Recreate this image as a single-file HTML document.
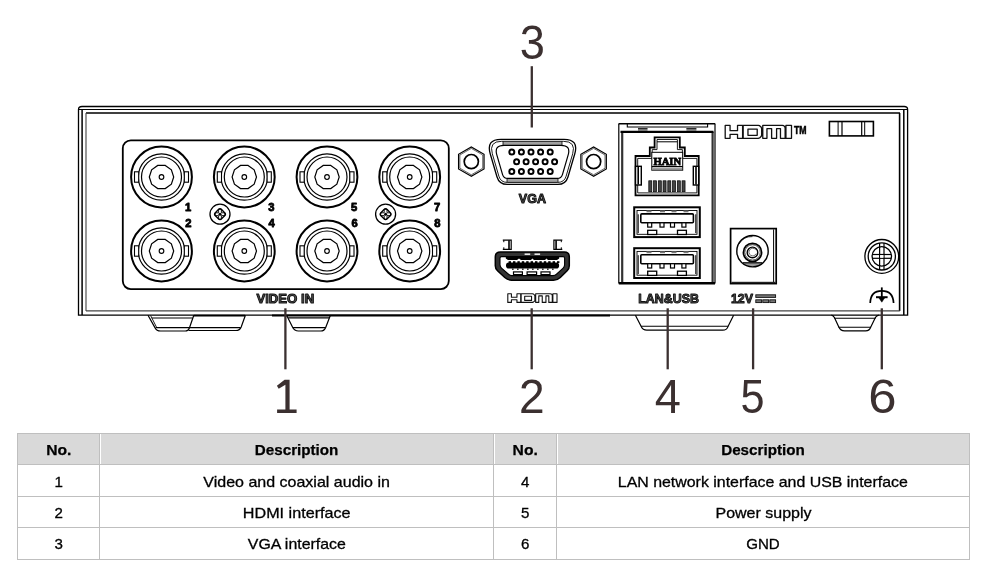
<!DOCTYPE html>
<html><head><meta charset="utf-8">
<style>
html,body{margin:0;padding:0;background:#fff;}
body{width:990px;height:579px;overflow:hidden;position:relative;font-family:"Liberation Sans",sans-serif;}
svg{position:absolute;left:0;top:0;will-change:transform;}
</style></head>
<body>
<svg width="990" height="579" viewBox="0 0 990 579">
<defs>
<g id="bnc" fill="none" stroke="#000">
<circle r="30.4" stroke-width="2.0"/>
<circle r="23.2" stroke-width="1.2"/>
<circle r="20" stroke-width="1.2"/>
<polygon points="3.77,-11.6 9.87,-7.17 12.2,0 9.87,7.17 3.77,11.6 -3.77,11.6 -9.87,7.17 -12.2,0 -9.87,-7.17 -3.77,-11.6" stroke-width="1.2"/>
<circle r="2.3" stroke-width="1.2"/>
<rect x="-27" y="-5.2" width="4.2" height="10.4" fill="#fff" stroke-width="1.1"/>
<rect x="22.8" y="-5.2" width="4.2" height="10.4" fill="#fff" stroke-width="1.1"/>
</g>
</defs>
<g fill="none">
<path d="M148,315.2 L154.8,327.4 Q156.6,331 160.6,331 L185.3,331 Q188.4,331 189.4,328 L193.8,315.2" fill="none" stroke="#000" stroke-width="1.2" />
<path d="M150.6,315.5 L156.8,327.8" fill="none" stroke="#000" stroke-width="0.9" />
<line x1="151.8" y1="318" x2="192.6" y2="318" stroke="#000" stroke-width="1.1" />
<line x1="155.6" y1="327.6" x2="240.6" y2="327.6" stroke="#000" stroke-width="1.2" />
<path d="M245.4,315.2 L241.2,327 Q239.8,330.5 236,330.5 L188.5,330.5" fill="none" stroke="#000" stroke-width="1.2" />
<path d="M286.6,315.2 L292.6,327.2 Q294.4,331 298.4,331 L320.6,331 Q324.4,331 325.8,327.2 L330.4,315.2" fill="none" stroke="#000" stroke-width="1.2" />
<line x1="288.2" y1="317.9" x2="329.2" y2="317.9" stroke="#000" stroke-width="1.1" />
<line x1="292.8" y1="327.6" x2="325.6" y2="327.6" stroke="#000" stroke-width="1.1" />
<path d="M635.4,315.2 L641.2,326.6 Q642.8,330.2 646.8,330.2 L722.8,330.2 Q726.6,330.2 728,326.6 L733.6,315.2" fill="none" stroke="#000" stroke-width="1.2" />
<line x1="641" y1="326.3" x2="728.2" y2="326.3" stroke="#000" stroke-width="1.1" />
<path d="M831.4,315.2 Q833.6,315.6 834.4,317.6 L838.8,327 Q840.4,330.8 844.6,330.8 L865.6,330.8 Q869.6,330.8 870.8,327 L875.4,317.6 Q876.4,315.6 878.8,315.2" fill="none" stroke="#000" stroke-width="1.2" />
<line x1="834.6" y1="318.2" x2="875.6" y2="318.2" stroke="#000" stroke-width="1.1" />
<line x1="838.6" y1="327.3" x2="871" y2="327.3" stroke="#000" stroke-width="1.1" />
<path d="M78.5,315.2 L78.5,109.5 Q78.5,106.5 82,106.5 L904.2,106.5 Q907.6,106.5 907.6,109.5 L907.6,315.2 Z" fill="none" stroke="#000" stroke-width="1.3" />
<line x1="78.5" y1="109.5" x2="907.6" y2="109.5" stroke="#000" stroke-width="1.2" />
<line x1="82.1" y1="109.5" x2="82.1" y2="315" stroke="#000" stroke-width="1.5" />
<line x1="903.8" y1="109.5" x2="903.8" y2="315" stroke="#000" stroke-width="1.5" />
<line x1="86" y1="113" x2="900" y2="113" stroke="#000" stroke-width="1.4" />
<line x1="86" y1="113" x2="86" y2="311" stroke="#444" stroke-width="1.1" />
<line x1="899.6" y1="113" x2="899.6" y2="311" stroke="#000" stroke-width="1.6" />
<line x1="86" y1="310.9" x2="899.8" y2="310.9" stroke="#444" stroke-width="1.1" />
<line x1="272" y1="315.6" x2="610" y2="315.6" stroke="#000" stroke-width="2" />
<line x1="193.8" y1="315.6" x2="245" y2="315.6" stroke="#000" stroke-width="1.8" />
</g>
<rect x="122.8" y="140.3" width="326" height="148.8" rx="8" fill="none" stroke="#000" stroke-width="1.8" />
<use href="#bnc" x="161.5" y="177"/>
<use href="#bnc" x="161.5" y="251"/>
<use href="#bnc" x="244.3" y="177"/>
<use href="#bnc" x="244.3" y="251"/>
<use href="#bnc" x="327" y="177"/>
<use href="#bnc" x="327" y="251"/>
<use href="#bnc" x="409.7" y="177"/>
<use href="#bnc" x="409.7" y="251"/>
<circle cx="220" cy="214.2" r="10" fill="none" stroke="#000" stroke-width="1.3"/>
<path d="M218.44,209.56 Q220,208 221.56,209.56 L224.64,212.64 Q226.2,214.2 224.64,215.76 L221.56,218.84 Q220,220.4 218.44,218.84 L215.36,215.76 Q213.8,214.2 215.36,212.64 Z" fill="none" stroke="#000" stroke-width="1.4" />
<path d="M218.6,209.2 L221.4,209.2 L221.4,212.8 L225,212.8 L225,215.6 L221.4,215.6 L221.4,219.2 L218.6,219.2 L218.6,215.6 L215,215.6 L215,212.8 L218.6,212.8 Z" fill="none" stroke="#000" stroke-width="0.9" />
<circle cx="220" cy="214.2" r="1.5" fill="#000" stroke="#000" stroke-width="0"/>
<circle cx="385.6" cy="214.2" r="10" fill="none" stroke="#000" stroke-width="1.3"/>
<path d="M384.04,209.56 Q385.6,208 387.16,209.56 L390.24,212.64 Q391.8,214.2 390.24,215.76 L387.16,218.84 Q385.6,220.4 384.04,218.84 L380.96,215.76 Q379.4,214.2 380.96,212.64 Z" fill="none" stroke="#000" stroke-width="1.4" />
<path d="M384.2,209.2 L387,209.2 L387,212.8 L390.6,212.8 L390.6,215.6 L387,215.6 L387,219.2 L384.2,219.2 L384.2,215.6 L380.6,215.6 L380.6,212.8 L384.2,212.8 Z" fill="none" stroke="#000" stroke-width="0.9" />
<circle cx="385.6" cy="214.2" r="1.5" fill="#000" stroke="#000" stroke-width="0"/>
<g font-family="Liberation Sans" font-weight="bold" font-size="11.2" fill="#000" stroke="#000" stroke-width="0.85" stroke-linejoin="round" text-anchor="middle">
<text x="188" y="210.6">1</text>
<text x="188.3" y="227.4">2</text>
<text x="271.3" y="210.6">3</text>
<text x="271.6" y="227.4">4</text>
<text x="354.2" y="210.6">5</text>
<text x="354.5" y="227.4">6</text>
<text x="437" y="210.6">7</text>
<text x="437.3" y="227.4">8</text>
</g>
<text x="256.4" y="302.7" textLength="57.8" lengthAdjust="spacingAndGlyphs" font-family="Liberation Sans" font-weight="bold" font-size="13.5" fill="#555" stroke="#111" stroke-width="1.0" stroke-linejoin="round">VIDEO IN</text>
<rect x="503" y="141.4" width="59" height="4" rx="0" fill="#a0a0a0" stroke="#000" stroke-width="0" />
<rect x="507" y="178.3" width="51" height="4.1" rx="0" fill="#a0a0a0" stroke="#000" stroke-width="0" />
<path d="M490.21,153.7 Q486,139.3 501,139.3 L564,139.3 Q579,139.3 574.79,153.7 L568.05,176.72 Q565.8,184.4 557.8,184.4 L507.2,184.4 Q499.2,184.4 496.95,176.72 Z" fill="none" stroke="#000" stroke-width="1.3" />
<path d="M492.32,153.78 Q488.67,141.3 501.67,141.3 L563.33,141.3 Q576.33,141.3 572.68,153.78 L566.13,176.16 Q564.3,182.4 557.8,182.4 L507.2,182.4 Q500.7,182.4 498.87,176.16 Z" fill="none" stroke="#000" stroke-width="0.9" />
<path d="M496.82,154.9 Q494.01,145.3 504.01,145.3 L560.99,145.3 Q570.99,145.3 568.18,154.9 L562.43,174.56 Q561.3,178.4 557.3,178.4 L507.7,178.4 Q503.7,178.4 502.57,174.56 Z" fill="none" stroke="#000" stroke-width="1.2" />
<line x1="503" y1="141.4" x2="503" y2="145.4" stroke="#000" stroke-width="0.8" />
<line x1="562" y1="141.4" x2="562" y2="145.4" stroke="#000" stroke-width="0.8" />
<line x1="507" y1="178.3" x2="507" y2="182.4" stroke="#000" stroke-width="0.8" />
<line x1="558" y1="178.3" x2="558" y2="182.4" stroke="#000" stroke-width="0.8" />
<circle cx="511.8" cy="152.1" r="2.5" fill="none" stroke="#000" stroke-width="2.0"/>
<circle cx="516.6" cy="161.7" r="2.5" fill="none" stroke="#000" stroke-width="2.0"/>
<circle cx="511.8" cy="171.4" r="2.5" fill="none" stroke="#000" stroke-width="2.0"/>
<circle cx="521.4" cy="152.1" r="2.5" fill="none" stroke="#000" stroke-width="2.0"/>
<circle cx="526.1" cy="161.7" r="2.5" fill="none" stroke="#000" stroke-width="2.0"/>
<circle cx="521.4" cy="171.4" r="2.5" fill="none" stroke="#000" stroke-width="2.0"/>
<circle cx="531" cy="152.1" r="2.5" fill="none" stroke="#000" stroke-width="2.0"/>
<circle cx="535.6" cy="161.7" r="2.5" fill="none" stroke="#000" stroke-width="2.0"/>
<circle cx="531" cy="171.4" r="2.5" fill="none" stroke="#000" stroke-width="2.0"/>
<circle cx="540.6" cy="152.1" r="2.5" fill="none" stroke="#000" stroke-width="2.0"/>
<circle cx="545.1" cy="161.7" r="2.5" fill="none" stroke="#000" stroke-width="2.0"/>
<circle cx="540.6" cy="171.4" r="2.5" fill="none" stroke="#000" stroke-width="2.0"/>
<circle cx="550.2" cy="152.1" r="2.5" fill="none" stroke="#000" stroke-width="2.0"/>
<circle cx="554.6" cy="161.7" r="2.5" fill="none" stroke="#000" stroke-width="2.0"/>
<circle cx="550.2" cy="171.4" r="2.5" fill="none" stroke="#000" stroke-width="2.0"/>
<polygon points="471.3,176.3 458.57,168.95 458.57,154.25 471.3,146.9 484.03,154.25 484.03,168.95" fill="none" stroke="#000" stroke-width="1.2"/>
<polygon points="471.3,174.8 459.87,168.2 459.87,155 471.3,148.4 482.73,155 482.73,168.2" fill="none" stroke="#000" stroke-width="0.6"/>
<circle cx="471.3" cy="161.6" r="7.1" fill="none" stroke="#000" stroke-width="1.7"/>
<polygon points="593.6,176.3 580.87,168.95 580.87,154.25 593.6,146.9 606.33,154.25 606.33,168.95" fill="none" stroke="#000" stroke-width="1.2"/>
<polygon points="593.6,174.8 582.17,168.2 582.17,155 593.6,148.4 605.03,155 605.03,168.2" fill="none" stroke="#000" stroke-width="0.6"/>
<circle cx="593.6" cy="161.6" r="7.1" fill="none" stroke="#000" stroke-width="1.7"/>
<text x="518.8" y="203" textLength="27.2" lengthAdjust="spacingAndGlyphs" font-family="Liberation Sans" font-weight="bold" font-size="13.5" fill="#555" stroke="#111" stroke-width="1.0" stroke-linejoin="round">VGA</text>
<path d="M502.8,240.2 L511.2,240.2 L511.2,249.3 L502.8,249.3" fill="none" stroke="#000" stroke-width="1.2" />
<line x1="509" y1="240.2" x2="509" y2="249.3" stroke="#000" stroke-width="1.6" />
<line x1="503.8" y1="240.2" x2="503.8" y2="242.2" stroke="#000" stroke-width="1" />
<line x1="503.8" y1="247.3" x2="503.8" y2="249.3" stroke="#000" stroke-width="1" />
<path d="M562.3,240.2 L553.9,240.2 L553.9,249.3 L562.3,249.3" fill="none" stroke="#000" stroke-width="1.2" />
<line x1="556.1" y1="240.2" x2="556.1" y2="249.3" stroke="#000" stroke-width="1.6" />
<line x1="561.3" y1="240.2" x2="561.3" y2="242.2" stroke="#000" stroke-width="1" />
<line x1="561.3" y1="247.3" x2="561.3" y2="249.3" stroke="#000" stroke-width="1" />
<path d="M495.3,257.1 Q495.3,252.1 500.3,252.1 L564.3,252.1 Q569.3,252.1 569.3,257.1 L569.3,265.7 Q569.3,268.7 567.14,270.78 L560.28,277.42 Q557.4,280.2 553.4,280.2 L511.7,280.2 Q507.7,280.2 504.77,277.48 L497.5,270.74 Q495.3,268.7 495.3,265.7 Z M500,258.1 Q500,256.6 501.5,256.6 L563.1,256.6 Q564.6,256.6 564.6,258.1 L564.6,264.8 Q564.6,266.8 563.13,268.15 L556.47,274.25 Q555,275.6 553,275.6 L512,275.6 Q510,275.6 508.5,274.28 L501.5,268.12 Q500,266.8 500,264.8 Z" fill="#333" stroke="#000" stroke-width="0" fill-rule="evenodd"/>
<path d="M495.3,257.1 Q495.3,252.1 500.3,252.1 L564.3,252.1 Q569.3,252.1 569.3,257.1 L569.3,265.7 Q569.3,268.7 567.14,270.78 L560.28,277.42 Q557.4,280.2 553.4,280.2 L511.7,280.2 Q507.7,280.2 504.77,277.48 L497.5,270.74 Q495.3,268.7 495.3,265.7 Z" fill="none" stroke="#000" stroke-width="1.5" />
<path d="M500,258.1 Q500,256.6 501.5,256.6 L563.1,256.6 Q564.6,256.6 564.6,258.1 L564.6,264.8 Q564.6,266.8 563.13,268.15 L556.47,274.25 Q555,275.6 553,275.6 L512,275.6 Q510,275.6 508.5,274.28 L501.5,268.12 Q500,266.8 500,264.8 Z" fill="none" stroke="#000" stroke-width="1.1" />
<rect x="524.6" y="253.4" width="5.6" height="1.6" rx="0" fill="#e8e8e8" stroke="#000" stroke-width="0" />
<rect x="534.5" y="253.4" width="5.6" height="1.6" rx="0" fill="#e8e8e8" stroke="#000" stroke-width="0" />
<path d="M505.8,256 L559.2,256 L559.2,258.4 L557,260 L548,260 L546.5,258.6 L545,260 L534,260 L532.4,258.6 L531,260 L521,260 L519,258.6 L517,260 L508,260 L505.8,258.6 Z" fill="#000" stroke="#000" stroke-width="0" />
<rect x="506" y="262.6" width="53.1" height="6" rx="2.8" fill="#000" stroke="#000" stroke-width="0" />
<rect x="508.6" y="261.2" width="2.4" height="1.8" rx="0" fill="#000" stroke="#000" stroke-width="0" />
<rect x="513" y="261.2" width="2.4" height="1.8" rx="0" fill="#000" stroke="#000" stroke-width="0" />
<rect x="517.4" y="261.2" width="2.4" height="1.8" rx="0" fill="#000" stroke="#000" stroke-width="0" />
<rect x="521.8" y="261.2" width="2.4" height="1.8" rx="0" fill="#000" stroke="#000" stroke-width="0" />
<rect x="526.2" y="261.2" width="2.4" height="1.8" rx="0" fill="#000" stroke="#000" stroke-width="0" />
<rect x="530.6" y="261.2" width="2.4" height="1.8" rx="0" fill="#000" stroke="#000" stroke-width="0" />
<rect x="535" y="261.2" width="2.4" height="1.8" rx="0" fill="#000" stroke="#000" stroke-width="0" />
<rect x="539.4" y="261.2" width="2.4" height="1.8" rx="0" fill="#000" stroke="#000" stroke-width="0" />
<rect x="543.8" y="261.2" width="2.4" height="1.8" rx="0" fill="#000" stroke="#000" stroke-width="0" />
<rect x="548.2" y="261.2" width="2.4" height="1.8" rx="0" fill="#000" stroke="#000" stroke-width="0" />
<rect x="552.6" y="261.2" width="2.4" height="1.8" rx="0" fill="#000" stroke="#000" stroke-width="0" />
<rect x="557" y="261.2" width="2.4" height="1.8" rx="0" fill="#000" stroke="#000" stroke-width="0" />
<rect x="512" y="268.4" width="1.6" height="1.6" rx="0" fill="#333" stroke="#000" stroke-width="0" />
<rect x="517" y="268.4" width="1.6" height="1.6" rx="0" fill="#333" stroke="#000" stroke-width="0" />
<rect x="522" y="268.4" width="1.6" height="1.6" rx="0" fill="#333" stroke="#000" stroke-width="0" />
<rect x="527" y="268.4" width="1.6" height="1.6" rx="0" fill="#333" stroke="#000" stroke-width="0" />
<rect x="532" y="268.4" width="1.6" height="1.6" rx="0" fill="#333" stroke="#000" stroke-width="0" />
<rect x="537" y="268.4" width="1.6" height="1.6" rx="0" fill="#333" stroke="#000" stroke-width="0" />
<rect x="542" y="268.4" width="1.6" height="1.6" rx="0" fill="#333" stroke="#000" stroke-width="0" />
<rect x="547" y="268.4" width="1.6" height="1.6" rx="0" fill="#333" stroke="#000" stroke-width="0" />
<rect x="552" y="268.4" width="1.6" height="1.6" rx="0" fill="#333" stroke="#000" stroke-width="0" />
<rect x="513.5" y="271.9" width="8.9" height="2.7" rx="0" fill="#fff" stroke="#000" stroke-width="1.2" />
<rect x="527.1" y="271.9" width="9.5" height="2.7" rx="0" fill="#fff" stroke="#000" stroke-width="1.2" />
<rect x="541" y="271.9" width="9" height="2.7" rx="0" fill="#fff" stroke="#000" stroke-width="1.2" />
<path d="M507.8,293.7 L511.41,293.7 L511.41,297.27 L516.95,297.27 L516.95,293.7 L520.71,293.7 L520.71,302.4 L516.95,302.4 L516.95,299.74 L511.41,299.74 L511.41,302.4 L507.8,302.4 Z M521.15,293.7 L532.29,293.7 L533.32,293.96 L534.58,295.06 L534.87,295.97 L534.87,300.13 L534.58,301.04 L533.32,302.14 L532.29,302.4 L521.15,302.4 Z M524.69,296.23 L531.55,296.23 L531.55,300.39 L524.69,300.39 Z M535.68,302.4 L535.68,293.7 L550.07,293.7 L551.25,293.96 L551.98,294.61 L552.28,295.65 L552.28,302.4 L548.81,302.4 L548.81,295.91 L545.94,295.91 L545.94,302.4 L542.25,302.4 L542.25,295.91 L538.78,295.91 L538.78,302.4 Z M552.87,293.7 L557,293.7 L557,302.4 L552.87,302.4 Z" fill="#fff" stroke="#111" stroke-width="1.1" fill-rule="evenodd" stroke-linejoin="round"/>
<line x1="618.6" y1="123.8" x2="715.2" y2="123.8" stroke="#000" stroke-width="1.4" />
<line x1="618.8" y1="123.8" x2="618.8" y2="283.6" stroke="#000" stroke-width="1.2" />
<line x1="715" y1="123.8" x2="715" y2="283.6" stroke="#000" stroke-width="1.2" />
<line x1="622.2" y1="131.8" x2="622.2" y2="283" stroke="#333" stroke-width="2.2" />
<line x1="712.6" y1="131.8" x2="712.6" y2="283" stroke="#333" stroke-width="2.2" />
<line x1="618.8" y1="283.2" x2="715" y2="283.2" stroke="#000" stroke-width="2.6" />
<line x1="620.5" y1="131.8" x2="713.5" y2="131.8" stroke="#000" stroke-width="2.2" />
<path d="M627.3,123.8 L627.3,127 L707.6,127 L707.6,123.8" fill="none" stroke="#000" stroke-width="1.1" />
<line x1="638" y1="128.6" x2="647.5" y2="128.6" stroke="#000" stroke-width="1" />
<line x1="686.4" y1="128.6" x2="696.4" y2="128.6" stroke="#000" stroke-width="1" />
<rect x="638" y="128.8" width="9.5" height="2.2" rx="0" fill="#777" stroke="#000" stroke-width="0" />
<rect x="686.4" y="128.8" width="10" height="2.2" rx="0" fill="#777" stroke="#000" stroke-width="0" />
<path d="M635.5,156 L649.8,156 L649.8,147.5 L654.6,147.5 L654.6,137.3 L679.8,137.3 L679.8,147.5 L684.8,147.5 L684.8,156 L698.7,156 L698.7,195.3 L635.5,195.3 Z" fill="none" stroke="#000" stroke-width="1.8" />
<path d="M637.7,166.3 L637.7,158.4 L652.2,158.4 L652.2,149.6 L657,149.6 L657,139.5 L677.4,139.5 L677.4,149.6 L682.4,149.6 L682.4,158.4 L696.9,158.4 L696.9,166.3" fill="none" stroke="#000" stroke-width="0.9" />
<line x1="657" y1="141.8" x2="677.4" y2="141.8" stroke="#000" stroke-width="1.0" />
<line x1="637.7" y1="185" x2="637.7" y2="192.9" stroke="#000" stroke-width="0.9" />
<line x1="696.9" y1="185" x2="696.9" y2="192.9" stroke="#000" stroke-width="0.9" />
<line x1="637.7" y1="192.9" x2="696.9" y2="192.9" stroke="#000" stroke-width="0.9" />
<rect x="635.5" y="166.3" width="5.8" height="18.7" rx="0" fill="#fff" stroke="#000" stroke-width="1.4" />
<rect x="693.3" y="166.3" width="5.4" height="18.7" rx="0" fill="#fff" stroke="#000" stroke-width="1.4" />
<line x1="638.2" y1="167" x2="638.2" y2="184.5" stroke="#000" stroke-width="1.6" />
<line x1="696" y1="167" x2="696" y2="184.5" stroke="#000" stroke-width="1.6" />
<rect x="651.8" y="152.3" width="30.9" height="17.9" rx="0" fill="#fff" stroke="#000" stroke-width="1.0" />
<text x="653.4" y="165.4" textLength="27.8" lengthAdjust="spacingAndGlyphs" font-family="Liberation Serif" font-weight="bold" font-size="11.4" fill="#000" stroke="#000" stroke-width="0.8">HAIN</text>
<line x1="651.8" y1="166.6" x2="682.7" y2="166.6" stroke="#000" stroke-width="1.3" />
<rect x="652.4" y="168.2" width="29.7" height="2" rx="0" fill="#888" stroke="#000" stroke-width="0" />
<rect x="648.8" y="180.8" width="3" height="10.9" rx="0" fill="#444" stroke="#000" stroke-width="0.7" />
<rect x="653.55" y="180.8" width="3" height="10.9" rx="0" fill="#444" stroke="#000" stroke-width="0.7" />
<rect x="658.3" y="180.8" width="3" height="10.9" rx="0" fill="#444" stroke="#000" stroke-width="0.7" />
<rect x="663.05" y="180.8" width="3" height="10.9" rx="0" fill="#444" stroke="#000" stroke-width="0.7" />
<rect x="667.8" y="180.8" width="3" height="10.9" rx="0" fill="#444" stroke="#000" stroke-width="0.7" />
<rect x="672.55" y="180.8" width="3" height="10.9" rx="0" fill="#444" stroke="#000" stroke-width="0.7" />
<rect x="677.3" y="180.8" width="3" height="10.9" rx="0" fill="#444" stroke="#000" stroke-width="0.7" />
<rect x="682.05" y="180.8" width="3" height="10.9" rx="0" fill="#444" stroke="#000" stroke-width="0.7" />
<rect x="634.2" y="207.3" width="65.6" height="29.8" rx="0" fill="none" stroke="#000" stroke-width="2.0" />
<rect x="637" y="210.5" width="60" height="23.8" rx="0" fill="none" stroke="#000" stroke-width="0.9" />
<rect x="640.8" y="213.9" width="52.6" height="8.9" rx="1" fill="#fff" stroke="#000" stroke-width="1.6" />
<rect x="647.7" y="222.8" width="4" height="4.3" rx="0" fill="#fff" stroke="#000" stroke-width="1.2" />
<rect x="660" y="222.8" width="4" height="4.3" rx="0" fill="#fff" stroke="#000" stroke-width="1.2" />
<rect x="670.5" y="222.8" width="4" height="4.3" rx="0" fill="#fff" stroke="#000" stroke-width="1.2" />
<rect x="681.9" y="222.8" width="4" height="4.3" rx="0" fill="#fff" stroke="#000" stroke-width="1.2" />
<rect x="647.7" y="230.3" width="9" height="4.2" rx="0" fill="#fff" stroke="#000" stroke-width="1.3" />
<rect x="677.5" y="230.3" width="8.9" height="4.2" rx="0" fill="#fff" stroke="#000" stroke-width="1.3" />
<rect x="646.5" y="210.5" width="5" height="1.8" rx="0" fill="#777" stroke="#000" stroke-width="0" />
<rect x="660" y="210.5" width="5" height="1.8" rx="0" fill="#777" stroke="#000" stroke-width="0" />
<rect x="671.5" y="210.5" width="5" height="1.8" rx="0" fill="#777" stroke="#000" stroke-width="0" />
<rect x="683.5" y="210.5" width="5" height="1.8" rx="0" fill="#777" stroke="#000" stroke-width="0" />
<line x1="638.2" y1="214.3" x2="638.2" y2="233.1" stroke="#000" stroke-width="1" />
<line x1="695.8" y1="214.3" x2="695.8" y2="233.1" stroke="#000" stroke-width="1" />
<rect x="634.2" y="248.2" width="65.6" height="29.8" rx="0" fill="none" stroke="#000" stroke-width="2.0" />
<rect x="637" y="251.4" width="60" height="23.8" rx="0" fill="none" stroke="#000" stroke-width="0.9" />
<rect x="640.8" y="254.8" width="52.6" height="8.9" rx="1" fill="#fff" stroke="#000" stroke-width="1.6" />
<rect x="647.7" y="263.7" width="4" height="4.3" rx="0" fill="#fff" stroke="#000" stroke-width="1.2" />
<rect x="660" y="263.7" width="4" height="4.3" rx="0" fill="#fff" stroke="#000" stroke-width="1.2" />
<rect x="670.5" y="263.7" width="4" height="4.3" rx="0" fill="#fff" stroke="#000" stroke-width="1.2" />
<rect x="681.9" y="263.7" width="4" height="4.3" rx="0" fill="#fff" stroke="#000" stroke-width="1.2" />
<rect x="647.7" y="271.2" width="9" height="4.2" rx="0" fill="#fff" stroke="#000" stroke-width="1.3" />
<rect x="677.5" y="271.2" width="8.9" height="4.2" rx="0" fill="#fff" stroke="#000" stroke-width="1.3" />
<rect x="646.5" y="251.4" width="5" height="1.8" rx="0" fill="#777" stroke="#000" stroke-width="0" />
<rect x="660" y="251.4" width="5" height="1.8" rx="0" fill="#777" stroke="#000" stroke-width="0" />
<rect x="671.5" y="251.4" width="5" height="1.8" rx="0" fill="#777" stroke="#000" stroke-width="0" />
<rect x="683.5" y="251.4" width="5" height="1.8" rx="0" fill="#777" stroke="#000" stroke-width="0" />
<line x1="638.2" y1="255.2" x2="638.2" y2="274" stroke="#000" stroke-width="1" />
<line x1="695.8" y1="255.2" x2="695.8" y2="274" stroke="#000" stroke-width="1" />
<text x="638.3" y="302.7" textLength="60.6" lengthAdjust="spacingAndGlyphs" font-family="Liberation Sans" font-weight="bold" font-size="13.5" fill="#555" stroke="#111" stroke-width="1.0" stroke-linejoin="round">LAN&amp;USB</text>
<path d="M725.2,125.3 L730.07,125.3 L730.07,130.64 L737.53,130.64 L737.53,125.3 L742.6,125.3 L742.6,138.3 L737.53,138.3 L737.53,134.32 L730.07,134.32 L730.07,138.3 L725.2,138.3 Z M743.19,125.3 L758.2,125.3 L759.59,125.69 L761.28,127.34 L761.68,128.7 L761.68,134.9 L761.28,136.26 L759.59,137.91 L758.2,138.3 L743.19,138.3 Z M747.96,129.08 L757.21,129.08 L757.21,135.29 L747.96,135.29 Z M762.77,138.3 L762.77,125.3 L782.16,125.3 L783.75,125.69 L784.74,126.66 L785.14,128.21 L785.14,138.3 L780.47,138.3 L780.47,128.6 L776.59,128.6 L776.59,138.3 L771.62,138.3 L771.62,128.6 L766.95,128.6 L766.95,138.3 Z M785.93,125.3 L791.5,125.3 L791.5,138.3 L785.93,138.3 Z" fill="#fff" stroke="#111" stroke-width="1.3" fill-rule="evenodd" stroke-linejoin="round"/>
<text x="794" y="133.6" textLength="12.6" lengthAdjust="spacingAndGlyphs" font-family="Liberation Sans" font-weight="bold" font-size="10.6" fill="#000" stroke="#000" stroke-width="0.5">TM</text>
<rect x="829.4" y="121.5" width="44" height="14.4" rx="0" fill="none" stroke="#000" stroke-width="1.6" />
<line x1="838.1" y1="121.5" x2="838.1" y2="135.9" stroke="#000" stroke-width="1.0" />
<line x1="842" y1="121.5" x2="842" y2="135.9" stroke="#000" stroke-width="1.2" />
<line x1="861.7" y1="121.5" x2="861.7" y2="135.9" stroke="#000" stroke-width="1.2" />
<line x1="864.7" y1="121.5" x2="864.7" y2="135.9" stroke="#000" stroke-width="1.0" />
<rect x="730.6" y="228.6" width="45.6" height="55" rx="0" fill="none" stroke="#000" stroke-width="1.7" />
<line x1="773.6" y1="229.4" x2="773.6" y2="282.4" stroke="#000" stroke-width="1.0" />
<rect x="731.4" y="281.8" width="44" height="1.4" rx="0" fill="#222" stroke="#000" stroke-width="0" />
<path d="M742.2,262.8 L762.8,262.8 A15.7,15.7 0 0 1 742.2,262.8 Z" fill="#9a9a9a" stroke="#000" stroke-width="0" />
<line x1="743" y1="262.8" x2="762" y2="262.8" stroke="#000" stroke-width="1.2" />
<circle cx="752.5" cy="251.2" r="15.7" fill="none" stroke="#000" stroke-width="1.4"/>
<path d="M739,244 A14.6,14.6 0 0 1 752.5,236.6" fill="none" stroke="#000" stroke-width="0.8" />
<circle cx="752.5" cy="252.4" r="9.1" fill="none" stroke="#000" stroke-width="1.7"/>
<circle cx="752.5" cy="252.4" r="7.7" fill="none" stroke="#000" stroke-width="0.7"/>
<circle cx="752.5" cy="252.4" r="5.3" fill="none" stroke="#000" stroke-width="1.4"/>
<path d="M755.6,249.6 A3.8,3.8 0 1 0 756.2,253.6" fill="none" stroke="#444" stroke-width="0.8" />
<text x="730.9" y="303.1" textLength="22" lengthAdjust="spacingAndGlyphs" font-family="Liberation Sans" font-weight="bold" font-size="13.5" fill="#555" stroke="#111" stroke-width="1.0" stroke-linejoin="round">12V</text>
<rect x="755.8" y="294.8" width="19.8" height="2.6" rx="0" fill="#777" stroke="#111" stroke-width="0.9" />
<rect x="755.8" y="299.8" width="5.8" height="2.8" rx="0" fill="#777" stroke="#111" stroke-width="0.9" />
<rect x="762.8" y="299.8" width="5.8" height="2.8" rx="0" fill="#777" stroke="#111" stroke-width="0.9" />
<rect x="769.8" y="299.8" width="5.8" height="2.8" rx="0" fill="#777" stroke="#111" stroke-width="0.9" />
<circle cx="881.8" cy="256.4" r="16.9" fill="none" stroke="#000" stroke-width="1.3"/>
<circle cx="881.8" cy="256.4" r="13.6" fill="none" stroke="#000" stroke-width="1.3"/>
<circle cx="881.8" cy="256.4" r="9.7" fill="none" stroke="#000" stroke-width="1.3"/>
<line x1="879.6" y1="243" x2="879.6" y2="269.8" stroke="#000" stroke-width="1.2" />
<line x1="884" y1="243" x2="884" y2="269.8" stroke="#000" stroke-width="1.2" />
<line x1="872.2" y1="254.5" x2="891.4" y2="254.5" stroke="#000" stroke-width="1.2" />
<line x1="872.2" y1="258.3" x2="891.4" y2="258.3" stroke="#000" stroke-width="1.2" />
<rect x="880.2" y="255.1" width="3.2" height="2.6" rx="0" fill="#fff" stroke="#000" stroke-width="0" />
<path d="M870.2,303 Q870.5,290.8 881.8,290.8 Q893.1,290.8 893.6,303" fill="none" stroke="#000" stroke-width="1.7" />
<line x1="881.8" y1="287.4" x2="881.8" y2="297" stroke="#000" stroke-width="1.8" />
<line x1="876" y1="297.2" x2="887.6" y2="297.2" stroke="#000" stroke-width="2.0" />
<path d="M879,298 L884.6,298 L881.8,302.2 Z" fill="#000" stroke="#000" stroke-width="0.5" />
<g stroke="#3b3030" stroke-width="2.3">
<line x1="531.8" y1="66.2" x2="531.8" y2="127.5" stroke="#3b3030" stroke-width="2.3" />
<line x1="285.4" y1="308.3" x2="285.4" y2="369.3" stroke="#3b3030" stroke-width="2.3" />
<line x1="531.7" y1="308.3" x2="531.7" y2="369.3" stroke="#3b3030" stroke-width="2.3" />
<line x1="667.7" y1="308.3" x2="667.7" y2="369.3" stroke="#3b3030" stroke-width="2.3" />
<line x1="753.1" y1="308.3" x2="753.1" y2="369.3" stroke="#3b3030" stroke-width="2.3" />
<line x1="881.8" y1="308.3" x2="881.8" y2="369.3" stroke="#3b3030" stroke-width="2.3" />
</g>
<g fill="#3b3030" font-family="Liberation Sans" font-size="48" text-anchor="middle">
<text x="0" y="59.3" transform="translate(532.4,0) scale(0.94,1)">3</text>
<text x="0" y="413.1" transform="translate(531.8,0) scale(0.96,1)">2</text>
<text x="0" y="413.1" transform="translate(667.8,0) scale(0.98,1)">4</text>
<text x="0" y="413.1" transform="translate(752.5,0) scale(0.9,1)">5</text>
<text x="0" y="413.1" transform="translate(882.4,0) scale(1.06,1)">6</text>
</g>
<path d="M284.6,379.7 L289.6,379.7 L289.6,409.5 L296.6,409.5 L296.6,412.9 L277.1,412.9 L277.1,409.5 L285.4,409.5 L285.4,384.8 L278.7,388.8 L276.9,385.8 Z" fill="#3b3030"/>
<g shape-rendering="crispEdges">
<rect x="17" y="433" width="953" height="31" fill="#d9d9d9"/>
<g stroke="#bfbfbf" stroke-width="1" fill="none">
<rect x="17.5" y="433.5" width="952" height="126"/>
<line x1="17" y1="464.5" x2="970" y2="464.5"/>
<line x1="17" y1="496.5" x2="970" y2="496.5"/>
<line x1="17" y1="527.5" x2="970" y2="527.5"/>
<line x1="99.5" y1="433" x2="99.5" y2="560"/>
<line x1="493.5" y1="433" x2="493.5" y2="560"/>
<line x1="556.5" y1="433" x2="556.5" y2="560"/>
</g><g stroke="#fff" stroke-width="1">
<line x1="100.5" y1="434" x2="100.5" y2="464"/>
<line x1="494.5" y1="434" x2="494.5" y2="464"/>
<line x1="557.5" y1="434" x2="557.5" y2="464"/>
</g></g>
<text x="58.8" y="455.3" text-anchor="middle" textLength="25.2" lengthAdjust="spacingAndGlyphs" font-family="Liberation Sans" font-size="15" font-weight="bold" stroke-width="0.25" fill="#000" stroke="#000">No.</text>
<text x="296.6" y="455.3" text-anchor="middle" textLength="83.6" lengthAdjust="spacingAndGlyphs" font-family="Liberation Sans" font-size="15" font-weight="bold" stroke-width="0.25" fill="#000" stroke="#000">Description</text>
<text x="525.2" y="455.3" text-anchor="middle" textLength="25.2" lengthAdjust="spacingAndGlyphs" font-family="Liberation Sans" font-size="15" font-weight="bold" stroke-width="0.25" fill="#000" stroke="#000">No.</text>
<text x="763" y="455.3" text-anchor="middle" textLength="83.6" lengthAdjust="spacingAndGlyphs" font-family="Liberation Sans" font-size="15" font-weight="bold" stroke-width="0.25" fill="#000" stroke="#000">Description</text>
<text x="58.8" y="486.6" text-anchor="middle" textLength="8.4" lengthAdjust="spacingAndGlyphs" font-family="Liberation Sans" font-size="15" stroke-width="0.3" fill="#000" stroke="#000">1</text>
<text x="296.6" y="486.6" text-anchor="middle" textLength="186.6" lengthAdjust="spacingAndGlyphs" font-family="Liberation Sans" font-size="15" stroke-width="0.3" fill="#000" stroke="#000">Video and coaxial audio in</text>
<text x="525.2" y="486.6" text-anchor="middle" textLength="8.4" lengthAdjust="spacingAndGlyphs" font-family="Liberation Sans" font-size="15" stroke-width="0.3" fill="#000" stroke="#000">4</text>
<text x="762.8" y="486.6" text-anchor="middle" textLength="290" lengthAdjust="spacingAndGlyphs" font-family="Liberation Sans" font-size="15" stroke-width="0.3" fill="#000" stroke="#000">LAN network interface and USB interface</text>
<text x="58.8" y="518" text-anchor="middle" textLength="8.4" lengthAdjust="spacingAndGlyphs" font-family="Liberation Sans" font-size="15" stroke-width="0.3" fill="#000" stroke="#000">2</text>
<text x="296.7" y="517.8" text-anchor="middle" textLength="107.7" lengthAdjust="spacingAndGlyphs" font-family="Liberation Sans" font-size="15" stroke-width="0.3" fill="#000" stroke="#000">HDMI interface</text>
<text x="525.2" y="518" text-anchor="middle" textLength="8.4" lengthAdjust="spacingAndGlyphs" font-family="Liberation Sans" font-size="15" stroke-width="0.3" fill="#000" stroke="#000">5</text>
<text x="763.5" y="518.2" text-anchor="middle" textLength="96" lengthAdjust="spacingAndGlyphs" font-family="Liberation Sans" font-size="15" stroke-width="0.3" fill="#000" stroke="#000">Power supply</text>
<text x="58.8" y="549.4" text-anchor="middle" textLength="8.4" lengthAdjust="spacingAndGlyphs" font-family="Liberation Sans" font-size="15" stroke-width="0.3" fill="#000" stroke="#000">3</text>
<text x="296.8" y="549.2" text-anchor="middle" textLength="98" lengthAdjust="spacingAndGlyphs" font-family="Liberation Sans" font-size="15" stroke-width="0.3" fill="#000" stroke="#000">VGA interface</text>
<text x="525.2" y="549.4" text-anchor="middle" textLength="8.4" lengthAdjust="spacingAndGlyphs" font-family="Liberation Sans" font-size="15" stroke-width="0.3" fill="#000" stroke="#000">6</text>
<text x="763" y="549.4" text-anchor="middle" textLength="33.6" lengthAdjust="spacingAndGlyphs" font-family="Liberation Sans" font-size="15" stroke-width="0.3" fill="#000" stroke="#000">GND</text>
</svg>
</body></html>
